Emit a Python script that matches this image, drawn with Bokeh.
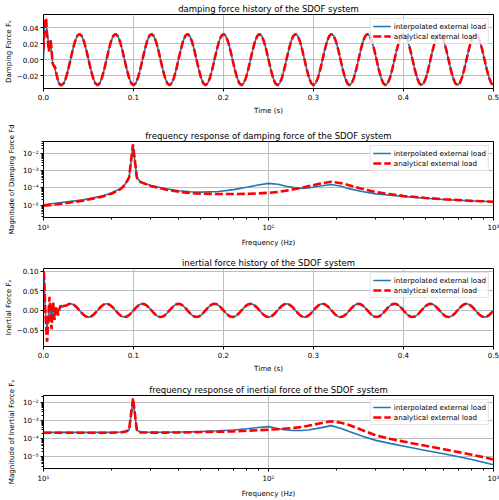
import numpy as np
from bokeh.plotting import figure
from bokeh.layouts import column
from bokeh.models import FixedTicker, CustomJSTickFormatter, Range1d
from bokeh.embed import file_html
from bokeh.resources import INLINE

# ---------------- data ----------------
series_names = ["interpolated external load", "analytical external load"]

# damping force history: transient part (t < 0.02 s)
t_damp_transient = [0.000, 0.001, 0.002, 0.003, 0.004, 0.005, 0.006, 0.007, 0.008, 0.009,
                    0.010, 0.011, 0.012, 0.013, 0.014, 0.015, 0.016, 0.017, 0.018, 0.019]
damp_interp_transient = [0.0, 0.040, 0.050, 0.044, 0.034, 0.026, 0.018, 0.022, 0.018, 0.008,
                         -0.002, -0.007, -0.010, -0.013, -0.017, -0.022, -0.026, -0.029, -0.031, -0.032]
damp_analytic_transient = [0.012, 0.035, 0.052, 0.050, 0.030, 0.022, 0.010, 0.020, 0.024, 0.012,
                           -0.004, -0.007, -0.008, -0.010, -0.016, -0.021, -0.026, -0.029, -0.031, -0.032]
# damping force history: steady part, read every 0.0025 s from t = 0.02 s to 0.5 s
damp_steady = [
    -0.032, -0.0296, -0.0226, -0.0122, 0.0, 0.0122, 0.0226, 0.0296, 0.032, 0.0296, 0.0226, 0.0122, 0.0, -0.0122, -0.0226, -0.0296,
    -0.032, -0.0296, -0.0226, -0.0122, 0.0, 0.0122, 0.0226, 0.0296, 0.032, 0.0296, 0.0226, 0.0122, 0.0, -0.0122, -0.0226, -0.0296,
    -0.032, -0.0296, -0.0226, -0.0122, 0.0, 0.0122, 0.0226, 0.0296, 0.032, 0.0296, 0.0226, 0.0122, 0.0, -0.0122, -0.0226, -0.0296,
    -0.032, -0.0296, -0.0226, -0.0122, 0.0, 0.0122, 0.0226, 0.0296, 0.032, 0.0296, 0.0226, 0.0122, 0.0, -0.0122, -0.0226, -0.0296,
    -0.032, -0.0296, -0.0226, -0.0122, 0.0, 0.0122, 0.0226, 0.0296, 0.032, 0.0296, 0.0226, 0.0122, 0.0, -0.0122, -0.0226, -0.0296,
    -0.032, -0.0296, -0.0226, -0.0122, 0.0, 0.0122, 0.0226, 0.0296, 0.032, 0.0296, 0.0226, 0.0122, 0.0, -0.0122, -0.0226, -0.0296,
    -0.032, -0.0296, -0.0226, -0.0122, 0.0, 0.0122, 0.0226, 0.0296, 0.032, 0.0296, 0.0226, 0.0122, 0.0, -0.0122, -0.0226, -0.0296,
    -0.032, -0.0296, -0.0226, -0.0122, 0.0, 0.0122, 0.0226, 0.0296, 0.032, 0.0296, 0.0226, 0.0122, 0.0, -0.0122, -0.0226, -0.0296,
    -0.032, -0.0296, -0.0226, -0.0122, 0.0, 0.0122, 0.0226, 0.0296, 0.032, 0.0296, 0.0226, 0.0122, 0.0, -0.0122, -0.0226, -0.0296,
    -0.032, -0.0296, -0.0226, -0.0122, 0.0, 0.0122, 0.0226, 0.0296, 0.032, 0.0296, 0.0226, 0.0122, 0.0, -0.0122, -0.0226, -0.0296,
    -0.032, -0.0296, -0.0226, -0.0122, 0.0, 0.0122, 0.0226, 0.0296, 0.032, 0.0296, 0.0226, 0.0122, 0.0, -0.0122, -0.0226, -0.0296,
    -0.032, -0.0296, -0.0226, -0.0122, 0.0, 0.0122, 0.0226, 0.0296, 0.032, 0.0296, 0.0226, 0.0122, 0.0, -0.0122, -0.0226, -0.0296,
    -0.032,
]
t_damp_steady = list(np.linspace(0.02, 0.5, len(damp_steady)))

# inertial force history: transient part (t < 0.025 s)
t_inert_transient = [0.0, 0.0005, 0.001, 0.0015, 0.002, 0.003, 0.004, 0.005, 0.006, 0.0067,
                     0.0075, 0.0082, 0.009, 0.0098, 0.0107, 0.0115, 0.0122, 0.0132, 0.0144, 0.0153,
                     0.0162, 0.0175, 0.019, 0.020, 0.021, 0.0225]
inert_interp_transient = [0.060, 0.100, 0.070, 0.030, 0.000, -0.030, -0.045, -0.025, 0.000, 0.015,
                          0.008, -0.008, -0.020, -0.008, 0.010, 0.002, -0.010, -0.004, 0.005, 0.001,
                          -0.007, 0.003, 0.010, 0.009, 0.008, 0.011]
inert_analytic_transient = [0.098, 0.095, 0.070, 0.035, 0.000, -0.045, -0.080, -0.040, 0.010, 0.035,
                            0.010, -0.025, -0.048, -0.010, 0.022, 0.000, -0.024, -0.005, 0.009, 0.000,
                            -0.013, 0.002, 0.013, 0.008, 0.006, 0.012]
# inertial force history: steady part, read every 0.0025 s from t = 0.025 s to 0.5 s
inert_steady = [
    0.012, 0.0157, 0.017, 0.0157, 0.012, 0.0065, 0.0, -0.0065, -0.012, -0.0157, -0.017, -0.0157, -0.012, -0.0065, 0.0, 0.0065,
    0.012, 0.0157, 0.017, 0.0157, 0.012, 0.0065, 0.0, -0.0065, -0.012, -0.0157, -0.017, -0.0157, -0.012, -0.0065, 0.0, 0.0065,
    0.012, 0.0157, 0.017, 0.0157, 0.012, 0.0065, 0.0, -0.0065, -0.012, -0.0157, -0.017, -0.0157, -0.012, -0.0065, 0.0, 0.0065,
    0.012, 0.0157, 0.017, 0.0157, 0.012, 0.0065, 0.0, -0.0065, -0.012, -0.0157, -0.017, -0.0157, -0.012, -0.0065, 0.0, 0.0065,
    0.012, 0.0157, 0.017, 0.0157, 0.012, 0.0065, 0.0, -0.0065, -0.012, -0.0157, -0.017, -0.0157, -0.012, -0.0065, 0.0, 0.0065,
    0.012, 0.0157, 0.017, 0.0157, 0.012, 0.0065, 0.0, -0.0065, -0.012, -0.0157, -0.017, -0.0157, -0.012, -0.0065, 0.0, 0.0065,
    0.012, 0.0157, 0.017, 0.0157, 0.012, 0.0065, 0.0, -0.0065, -0.012, -0.0157, -0.017, -0.0157, -0.012, -0.0065, 0.0, 0.0065,
    0.012, 0.0157, 0.017, 0.0157, 0.012, 0.0065, 0.0, -0.0065, -0.012, -0.0157, -0.017, -0.0157, -0.012, -0.0065, 0.0, 0.0065,
    0.012, 0.0157, 0.017, 0.0157, 0.012, 0.0065, 0.0, -0.0065, -0.012, -0.0157, -0.017, -0.0157, -0.012, -0.0065, 0.0, 0.0065,
    0.012, 0.0157, 0.017, 0.0157, 0.012, 0.0065, 0.0, -0.0065, -0.012, -0.0157, -0.017, -0.0157, -0.012, -0.0065, 0.0, 0.0065,
    0.012, 0.0157, 0.017, 0.0157, 0.012, 0.0065, 0.0, -0.0065, -0.012, -0.0157, -0.017, -0.0157, -0.012, -0.0065, 0.0, 0.0065,
    0.012, 0.0157, 0.017, 0.0157, 0.012, 0.0065, 0.0, -0.0065, -0.012, -0.0157, -0.017, -0.0157, -0.012, -0.0065, 0.0,
]
t_inert_steady = list(np.linspace(0.025, 0.5, len(inert_steady)))

# frequency responses
freq = [10, 12, 15, 18, 20, 22, 23, 24, 25, 26, 27, 30, 35, 40, 45, 50, 60, 70, 80, 90,
        100, 110, 120, 130, 140, 150, 170, 190, 210, 230, 260, 300, 350, 400, 500, 600, 700, 800, 900, 1000]
damp_fft_interp = [1.05e-5, 1.4e-5, 2.0e-5, 3.2e-5, 5.0e-5, 9.0e-5, 1.6e-4, 4.0e-4, 3.0e-2, 4.0e-4,
                   2.2e-4, 1.4e-4, 9.0e-5, 6.8e-5, 6.0e-5, 5.7e-5, 6.2e-5, 8.0e-5, 1.1e-4, 1.5e-4,
                   1.85e-4, 1.65e-4, 1.25e-4, 1.05e-4, 9.5e-5, 1.0e-4, 1.3e-4, 1.6e-4, 1.25e-4, 8.8e-5,
                   6.2e-5, 4.5e-5, 3.7e-5, 3.1e-5, 2.5e-5, 2.1e-5, 1.9e-5, 1.75e-5, 1.65e-5, 1.55e-5]
damp_fft_analytic = [9.0e-6, 1.2e-5, 1.8e-5, 3.0e-5, 4.6e-5, 8.5e-5, 1.5e-4, 4.0e-4, 3.5e-2, 4.0e-4,
                     2.2e-4, 1.3e-4, 8.0e-5, 6.0e-5, 5.0e-5, 4.6e-5, 4.4e-5, 4.4e-5, 4.5e-5, 4.8e-5,
                     5.2e-5, 5.8e-5, 7.0e-5, 8.5e-5, 1.0e-4, 1.25e-4, 1.8e-4, 2.3e-4, 1.9e-4, 1.4e-4,
                     9.0e-5, 5.8e-5, 4.2e-5, 3.4e-5, 2.6e-5, 2.2e-5, 1.95e-5, 1.75e-5, 1.65e-5, 1.55e-5]
inert_fft_interp = [2.2e-4, 2.2e-4, 2.2e-4, 2.2e-4, 2.2e-4, 2.3e-4, 2.5e-4, 2.9e-4, 1.2e-2, 2.9e-4,
                    2.3e-4, 2.25e-4, 2.25e-4, 2.3e-4, 2.35e-4, 2.45e-4, 2.7e-4, 3.0e-4, 3.5e-4, 4.1e-4,
                    4.6e-4, 3.6e-4, 3.0e-4, 2.8e-4, 2.8e-4, 3.0e-4, 3.9e-4, 5.2e-4, 3.6e-4, 2.4e-4,
                    1.4e-4, 8.0e-5, 5.3e-5, 3.8e-5, 2.2e-5, 1.45e-5, 1.0e-5, 7.0e-6, 5.0e-6, 3.6e-6]
inert_fft_analytic = [2.1e-4, 2.1e-4, 2.1e-4, 2.1e-4, 2.1e-4, 2.2e-4, 2.4e-4, 2.9e-4, 1.75e-2, 2.9e-4,
                      2.2e-4, 2.15e-4, 2.15e-4, 2.2e-4, 2.25e-4, 2.3e-4, 2.4e-4, 2.5e-4, 2.7e-4, 2.9e-4,
                      3.1e-4, 3.3e-4, 3.6e-4, 3.9e-4, 4.4e-4, 5.1e-4, 7.0e-4, 9.0e-4, 7.5e-4, 5.5e-4,
                      3.0e-4, 1.5e-4, 9.5e-5, 6.8e-5, 4.0e-5, 2.6e-5, 1.8e-5, 1.3e-5, 9.5e-6, 7.0e-6]

# ticks
time_ticks = [0.0, 0.1, 0.2, 0.3, 0.4, 0.5]
damp_yticks = [-0.02, 0.0, 0.02, 0.04]
inert_yticks = [-0.05, 0.0, 0.05, 0.10]
freq_ticks = [10, 100, 1000]
freq_minor = [20, 30, 40, 50, 60, 70, 80, 90, 200, 300, 400, 500, 600, 700, 800, 900]
mag_ticks = [1e-5, 1e-4, 1e-3, 1e-2]
mag_minor = [k * 10.0 ** e for e in range(-7, 0) for k in range(2, 10)]

# ---------------- styling ----------------
FONT = "DejaVu Sans"
BLUE = "#1f77b4"
RED = "#ff0000"
W = 499

lin_fmt2 = CustomJSTickFormatter(code="""
const s = Math.abs(tick).toFixed(2);
return (tick < -1e-12 ? '\u2212' : '') + s;""")
lin_fmt1 = CustomJSTickFormatter(code="return Math.abs(tick).toFixed(1);")
log_fmt = CustomJSTickFormatter(code="""
const e = Math.round(Math.log10(tick));
const sup = {'-':'\u207b','0':'\u2070','1':'\u00b9','2':'\u00b2','3':'\u00b3','4':'\u2074',
             '5':'\u2075','6':'\u2076','7':'\u2077','8':'\u2078','9':'\u2079'};
return '10' + String(e).split('').map(c => sup[c]).join('');""")


def make_fig(height, top, bottom, title, xlabel, ylabel, log, yr, yticks, ylabel_size="7.1px"):
    kw = dict(width=W, height=height, output_backend="svg", toolbar_location=None,
              min_border_left=43, min_border_right=6, min_border_top=top,
              min_border_bottom=bottom, background_fill_color="white",
              border_fill_color="white")
    if log:
        p = figure(x_axis_type="log", y_axis_type="log", x_range=Range1d(10, 1000),
                   y_range=Range1d(*yr), **kw)
        p.xaxis.ticker = FixedTicker(ticks=freq_ticks, minor_ticks=freq_minor)
        p.yaxis.ticker = FixedTicker(ticks=mag_ticks, minor_ticks=mag_minor)
        p.xaxis.formatter = log_fmt
        p.yaxis.formatter = log_fmt
    else:
        p = figure(x_range=Range1d(0, 0.5), y_range=Range1d(*yr), **kw)
        p.xaxis.ticker = FixedTicker(ticks=time_ticks)
        p.yaxis.ticker = FixedTicker(ticks=yticks)
        p.xaxis.formatter = lin_fmt1
        p.yaxis.formatter = lin_fmt2

    p.title.text = title
    p.title.align = "center"
    p.title.text_font = FONT
    p.title.text_font_size = "8.5px"
    p.title.text_font_style = "normal"
    p.title.text_color = "black"
    p.title.standoff = 2

    for ax in (p.xaxis[0], p.yaxis[0]):
        ax.axis_line_color = None
        ax.major_tick_line_color = "black"
        ax.minor_tick_line_color = "black" if log else None
        ax.major_tick_out = 3
        ax.major_tick_in = 0
        ax.minor_tick_out = 2
        ax.minor_tick_in = 0
        ax.major_label_text_font = FONT
        ax.major_label_text_font_size = "7.1px"
        ax.major_label_text_color = "black"
        ax.axis_label_text_font = FONT
        ax.axis_label_text_font_size = "7.1px"
        ax.axis_label_text_font_style = "normal"
        ax.axis_label_text_color = "black"
    p.xaxis.axis_label = xlabel
    p.yaxis.axis_label = ylabel
    p.yaxis.axis_label_text_font_size = ylabel_size
    p.xaxis.major_label_standoff = 2
    p.xaxis.axis_label_standoff = 3
    p.yaxis.major_label_standoff = 2
    p.yaxis.axis_label_standoff = 4 if log else 1

    p.grid.grid_line_color = "#bdbdbd"
    p.grid.grid_line_width = 1
    p.outline_line_color = "black"
    p.outline_line_width = 1
    return p


def add_lines(p, x1, y1, x2, y2):
    p.line(x1, y1, color=BLUE, line_width=1.6, legend_label=series_names[0])
    p.line(x2, y2, color=RED, line_width=2.6, line_dash="8 3", legend_label=series_names[1])
    lg = p.legend[0]
    lg.location = "top_right"
    lg.margin = 4
    lg.padding = 2
    lg.spacing = 0
    lg.glyph_height = 10
    lg.label_height = 10
    lg.glyph_width = 18
    lg.label_standoff = 3
    lg.label_text_font = FONT
    lg.label_text_font_size = "7.1px"
    lg.label_text_color = "black"
    lg.border_line_color = "#cccccc"
    lg.border_line_width = 1
    lg.background_fill_alpha = 0.8


p1 = make_fig(122, 13, 34, "damping force history of the SDOF system", "Time (s)",
              "Damping Force F\u1d65", False, (-0.0362, 0.0564), damp_yticks)
add_lines(p1, t_damp_transient + t_damp_steady, damp_interp_transient + damp_steady,
          t_damp_transient + t_damp_steady, damp_analytic_transient + damp_steady)

p2 = make_fig(132, 19, 37, "frequency response of damping force of the SDOF system", "Frequency (Hz)",
              "Magnitude of Damping Force Fd", True, (10 ** -5.73, 10 ** -1.28), None,
              ylabel_size="6.9px")
add_lines(p2, freq, damp_fft_interp, freq, damp_fft_analytic)

p3 = make_fig(122, 14, 30, "inertial force history of the SDOF system", "Time (s)",
              "Inertial Force F\u2090", False, (-0.092, 0.107), inert_yticks)
add_lines(p3, t_inert_transient + t_inert_steady, inert_interp_transient + inert_steady,
          t_inert_transient + t_inert_steady, inert_analytic_transient + inert_steady)

p4 = make_fig(124, 19, 28, "frequency response of inertial force of the SDOF system", "Frequency (Hz)",
              "Magnitude of Inertial Force F\u2090", True, (10 ** -5.65, 10 ** -1.62), None)
add_lines(p4, freq, inert_fft_interp, freq, inert_fft_analytic)

layout = column(p1, p2, p3, p4, spacing=0)
open("out.html", "w").write(file_html(layout, INLINE))
